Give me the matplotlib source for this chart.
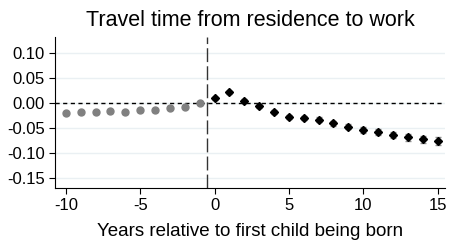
import numpy as np
import matplotlib
matplotlib.use("Agg")
import matplotlib.pyplot as plt

plt.rcParams["font.family"] = ["Liberation Sans", "DejaVu Sans"]
plt.rcParams["axes.unicode_minus"] = False

# Data

years_pre = [-10, -9, -8, -7, -6, -5, -4, -3, -2, -1]
coef_pre = [-0.021, -0.019, -0.019, -0.017, -0.019, -0.015, -0.015, -0.010, -0.008, 0.000]
err_pre = [0.003, 0.003, 0.003, 0.003, 0.003, 0.003, 0.003, 0.003, 0.003, 0.0]

years_post = [0, 1, 2, 3, 4, 5, 6, 7, 8, 9, 10, 11, 12, 13, 14, 15]
coef_post = [0.009, 0.021, 0.004, -0.007, -0.018, -0.028, -0.031, -0.034, -0.041,
             -0.048, -0.054, -0.059, -0.064, -0.069, -0.073, -0.077]
err_post = [0.003, 0.003, 0.003, 0.004, 0.004, 0.004, 0.004, 0.005, 0.005,
            0.005, 0.006, 0.006, 0.006, 0.007, 0.007, 0.008]

yticks = [0.10, 0.05, 0.00, -0.05, -0.10, -0.15]
xticks = [-10, -5, 0, 5, 10, 15]

# Plot

fig = plt.figure(figsize=(4.5, 2.45), dpi=100)
ax = fig.add_axes([0.123, 0.234, 0.866, 0.615])

for y in yticks:
    ax.axhline(y, color="#eaf0f3", lw=1.0, zorder=0)
ax.axhline(0, color="black", lw=1.0, ls=(0, (3, 2.5)), zorder=1)
ax.axvline(-0.5, color="#333333", lw=1.0, ls=(0, (10, 3)), zorder=1)

ax.errorbar(years_pre, coef_pre, yerr=err_pre, fmt="o", color="#808080",
            ms=5, ecolor="#a0a0a0", elinewidth=1, capsize=2, zorder=3)
ax.errorbar(years_post, coef_post, yerr=err_post, fmt="D", color="black",
            ms=4.5, ecolor="#909090", elinewidth=1, capsize=2, zorder=3)

ax.set_xlim(-10.7, 15.5)
ax.set_ylim(-0.17, 0.132)
ax.set_xticks(xticks)
ax.set_yticks(yticks)
ax.set_yticklabels(["%.2f" % v for v in yticks])
ax.tick_params(labelsize=12, length=4, color="black")

for s in ["top", "right"]:
    ax.spines[s].set_visible(False)

ax.set_title("Travel time from residence to work", fontsize=15.5, pad=8)
ax.set_xlabel("Years relative to first child being born", fontsize=13.5, labelpad=7)

fig.savefig("out.png", dpi=100)
